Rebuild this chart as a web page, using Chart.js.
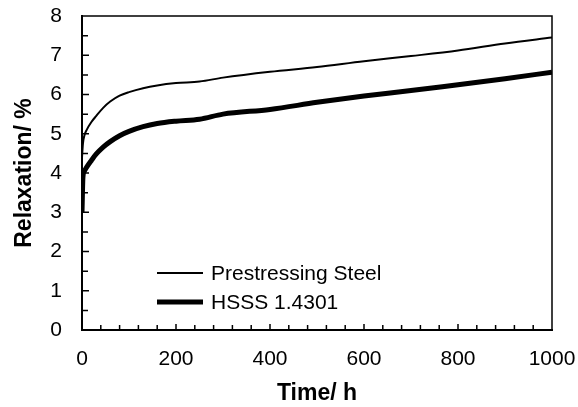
<!DOCTYPE html>
<html>
<head>
<meta charset="utf-8">
<script src="https://cdn.jsdelivr.net/npm/chart.js@4.4.1/dist/chart.umd.min.js"></script>
<style>
  html, body { margin: 0; padding: 0; background: #fff; }
  #wrap { width: 578px; height: 407px; }
</style>
</head>
<body>
<div id="wrap"><canvas id="relaxChart"></canvas></div>
<script>
// values
const timeHours = [0, 2, 5, 10, 20, 30, 45, 60, 80, 100, 130, 160, 200, 250, 300, 400, 500, 600, 700, 800, 900, 1000];
const prestressingSteel = [4.4, 4.75, 4.95, 5.1, 5.3, 5.45, 5.66, 5.82, 5.97, 6.06, 6.16, 6.23, 6.29, 6.33, 6.43, 6.58, 6.7, 6.85, 6.98, 7.12, 7.3, 7.45];
const hsss14301 = [3.0, 3.9, 4.05, 4.15, 4.32, 4.48, 4.66, 4.8, 4.95, 5.06, 5.18, 5.26, 5.32, 5.37, 5.5, 5.62, 5.8, 5.96, 6.1, 6.25, 6.4, 6.57];
const seriesLabels = ['Prestressing Steel', 'HSSS 1.4301'];

const FONT = "'Liberation Sans', Arial, sans-serif";
const toPoints = (vals) => timeHours.map((t, i) => ({ x: t, y: vals[i] }));

// frame, inward ticks and the legend inside the plot
const framePlugin = {
    id: 'frame',
    afterDraw(chart) {
        const { ctx, chartArea: a, scales: { x, y } } = chart;
        ctx.save();
        ctx.strokeStyle = '#000';
        ctx.lineWidth = 1.5;
        ctx.beginPath();
        ctx.moveTo(a.left, a.top);
        ctx.lineTo(a.right, a.top);
        ctx.lineTo(a.right, a.bottom);
        ctx.stroke();

        ctx.beginPath();
        for (let v = 0.5; v < 8; v += 0.5) {
            const py = y.getPixelForValue(v);
            ctx.moveTo(a.left, py);
            ctx.lineTo(a.left + (v % 1 === 0 ? 7 : 6), py);
        }
        for (let t = 40; t < 1000; t += 40) {
            const px = x.getPixelForValue(t);
            ctx.moveTo(px, a.bottom);
            ctx.lineTo(px, a.bottom - (t % 200 === 0 ? 6 : 5));
        }
        ctx.stroke();

        // legend
        const rows = [273, 302];
        chart.data.datasets.forEach((ds, i) => {
            ctx.lineWidth = ds.borderWidth;
            ctx.beginPath();
            ctx.moveTo(157, rows[i]);
            ctx.lineTo(203, rows[i]);
            ctx.stroke();
            ctx.fillStyle = '#000';
            ctx.font = '21px ' + FONT;
            ctx.textBaseline = 'middle';
            ctx.fillText(ds.label, 211, rows[i] + 1);
        });
        ctx.restore();
    }
};

new Chart(document.getElementById('relaxChart'), {
    type: 'line',
    data: {
        datasets: [
            { label: seriesLabels[0], data: toPoints(prestressingSteel), borderColor: '#000', borderWidth: 2, pointRadius: 0, cubicInterpolationMode: 'monotone' },
            { label: seriesLabels[1], data: toPoints(hsss14301), borderColor: '#000', borderWidth: 5, pointRadius: 0, cubicInterpolationMode: 'monotone' }
        ]
    },
    options: {
        responsive: true,
        maintainAspectRatio: false,
        animation: false,
        layout: { padding: { top: 16, right: 26, left: 0, bottom: 0 } },
        plugins: { legend: { display: false }, tooltip: { enabled: false } },
        scales: {
            x: {
                type: 'linear',
                min: 0,
                max: 1000,
                grid: { display: false, drawTicks: false },
                border: { display: true, color: '#000', width: 2 },
                ticks: { stepSize: 200, color: '#000', padding: 17, maxRotation: 0, callback: (v) => String(v), font: { family: FONT, size: 21 } },
                title: { display: true, text: 'Time/ h', color: '#000', padding: { top: 2, bottom: 0 }, font: { family: FONT, size: 23, weight: 'bold' } },
                afterFit: (scale) => { scale.height = 77; scale.paddingLeft = 0; scale.paddingRight = 0; }
            },
            y: {
                min: 0,
                max: 8,
                grid: { display: false, drawTicks: false },
                border: { display: true, color: '#000', width: 2 },
                ticks: { stepSize: 1, color: '#000', padding: 20, font: { family: FONT, size: 21 } },
                title: { display: true, text: 'Relaxation/ %', color: '#000', padding: { top: 11, bottom: 0 }, font: { family: FONT, size: 23, weight: 'bold' } },
                afterFit: (scale) => { scale.width = 82; scale.paddingTop = 0; scale.paddingBottom = 0; }
            }
        }
    },
    plugins: [framePlugin]
});
</script>
</body>
</html>
